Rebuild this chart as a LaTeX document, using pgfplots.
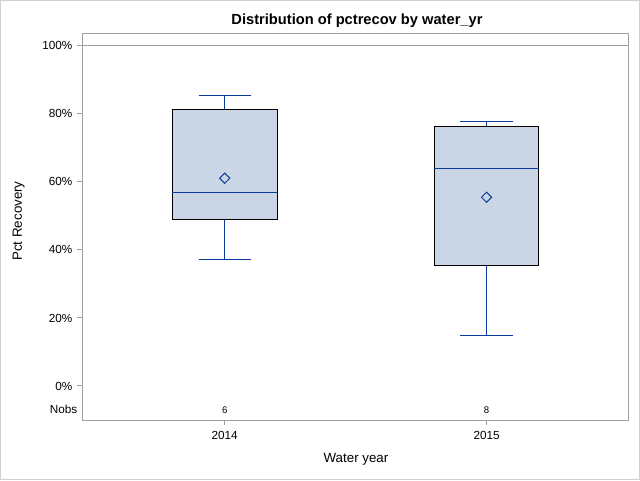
\documentclass[border=0pt]{standalone}
\usepackage{pgfplots}
\pgfplotsset{compat=1.18}
\usepackage{fontspec}
\setmainfont{Liberation Sans}
\definecolor{boxfill}{HTML}{CAD5E5}
\definecolor{sasblue}{HTML}{0B3A9A}
\definecolor{framegray}{HTML}{A0A0A0}
\definecolor{bordergray}{HTML}{D0D0D0}
\pgfdeclareplotmark{sasdiamond}{%
  \pgfpathmoveto{\pgfqpoint{0pt}{\pgfplotmarksize}}%
  \pgfpathlineto{\pgfqpoint{\pgfplotmarksize}{0pt}}%
  \pgfpathlineto{\pgfqpoint{0pt}{-\pgfplotmarksize}}%
  \pgfpathlineto{\pgfqpoint{-\pgfplotmarksize}{0pt}}%
  \pgfpathclose
  \pgfusepathqstroke}
\begin{document}
\begin{tikzpicture}
\path[use as bounding box] (0,0) rectangle (480pt,360pt);
\draw[bordergray, line width=0.75pt] (0.375pt,0.375pt) rectangle (479.625pt,359.625pt);
\begin{axis}[
  at={(61.5pt,45pt)}, anchor=south west,
  scale only axis, width=409.5pt, height=289.5pt,
  xmin=-0.545, xmax=1.54, ymin=-10, ymax=103.5,
  axis line style={framegray, line width=0.75pt},
  xtick={0,1}, xticklabels={2014,2015},
  ytick={0,20,40,60,80,100}, yticklabels={0\%,20\%,40\%,60\%,80\%,100\%},
  extra y ticks={-7}, extra y tick labels={Nobs},
  extra y tick style={major tick length=0.01pt},
  tick align=outside, xtick pos=bottom, ytick pos=left,
  major tick length=3.75pt,
  tick style={framegray, line width=0.75pt},
  ticklabel style={font=\fontsize{8.8}{10}\selectfont},
  xticklabel style={yshift=-1.5pt},
  clip=false,
]
\addplot[framegray, line width=0.75pt] coordinates {(-0.545,100) (1.54,100)};
% 2014
\addplot[sasblue, line width=0.75pt] coordinates {(0,81.4) (0,85.3)};
\addplot[sasblue, line width=0.75pt] coordinates {(-0.1,85.3) (0.1,85.3)};
\addplot[sasblue, line width=0.75pt] coordinates {(0,49.1) (0,37.3)};
\addplot[sasblue, line width=0.75pt] coordinates {(-0.1,37.3) (0.1,37.3)};
\addplot[draw=black, fill=boxfill, line width=0.75pt] coordinates {(-0.2,49.1) (0.2,49.1) (0.2,81.4) (-0.2,81.4) (-0.2,49.1)};
\addplot[sasblue, line width=0.75pt] coordinates {(-0.2,57.0) (0.2,57.0)};
% 2015
\addplot[sasblue, line width=0.75pt] coordinates {(1,76.4) (1,77.8)};
\addplot[sasblue, line width=0.75pt] coordinates {(0.9,77.8) (1.1,77.8)};
\addplot[sasblue, line width=0.75pt] coordinates {(1,35.3) (1,14.9)};
\addplot[sasblue, line width=0.75pt] coordinates {(0.9,14.9) (1.1,14.9)};
\addplot[draw=black, fill=boxfill, line width=0.75pt] coordinates {(0.8,35.3) (1.2,35.3) (1.2,76.4) (0.8,76.4) (0.8,35.3)};
\addplot[sasblue, line width=0.75pt] coordinates {(0.8,64.0) (1.2,64.0)};
% means
\addplot[only marks, mark=sasdiamond, mark size=3.8pt,
  mark options={draw=sasblue, line width=0.75pt}]
  coordinates {(0,61.1) (1,55.5)};
\node[font=\fontsize{7.2}{8}\selectfont] at (axis cs:0,-7) {6};
\node[font=\fontsize{7.2}{8}\selectfont] at (axis cs:1,-7) {8};
\end{axis}
\node[font=\bfseries\fontsize{11}{13}\selectfont] at (267.75pt,344.6pt) {Distribution of pctrecov by water\_yr};
\node[font=\fontsize{10}{12}\selectfont] at (267pt,15.8pt) {Water year};
\node[font=\fontsize{10}{12}\selectfont, rotate=90] at (14pt,194.25pt) {Pct Recovery};
\end{tikzpicture}
\end{document}
